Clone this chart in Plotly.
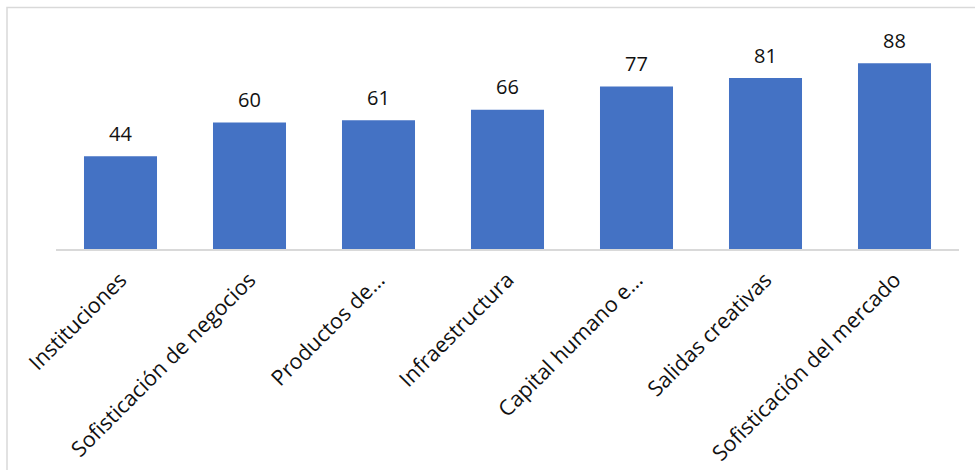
import plotly.graph_objects as go

categories = ["Instituciones", "Sofisticación de negocios", "Productos de…",
              "Infraestructura", "Capital humano e…", "Salidas creativas",
              "Sofisticación del mercado"]
values = [44, 60, 61, 66, 77, 81, 88]

fig = go.Figure(go.Bar(
    x=categories, y=values,
    marker=dict(color="#4472C4", line=dict(width=0)),
    cliponaxis=False,
))

for c, v in zip(categories, values):
    fig.add_annotation(x=c, y=v, text=str(v), showarrow=False,
                       yanchor="middle", yshift=23,
                       font=dict(family="Open Sans", size=20, color="#111111"))

fig.update_layout(
    width=975, height=470,
    margin=dict(l=56, r=16, t=38, b=221),
    paper_bgcolor="white", plot_bgcolor="white",
    bargap=0.434, showlegend=False,
    font=dict(family="Open Sans", color="#111111"),
    xaxis=dict(tickangle=-45, tickfont=dict(family="Open Sans", size=21.5, color="#111111"),
               showline=True, linecolor="#d9d9d9", linewidth=1.5, ticks="",
               ticklabelstandoff=8, showgrid=False, automargin=False),
    yaxis=dict(range=[0, 100], visible=False, showgrid=False, automargin=False),
    shapes=[dict(type="rect", xref="paper", yref="paper",
                 x0=(7 - 56) / 903, x1=(985 - 56) / 903,
                 y0=(249 - 485) / 211, y1=(249 - 7.5) / 211,
                 line=dict(color="#d9d9d9", width=1.5), layer="below")],
)

fig.write_html("out.html")
